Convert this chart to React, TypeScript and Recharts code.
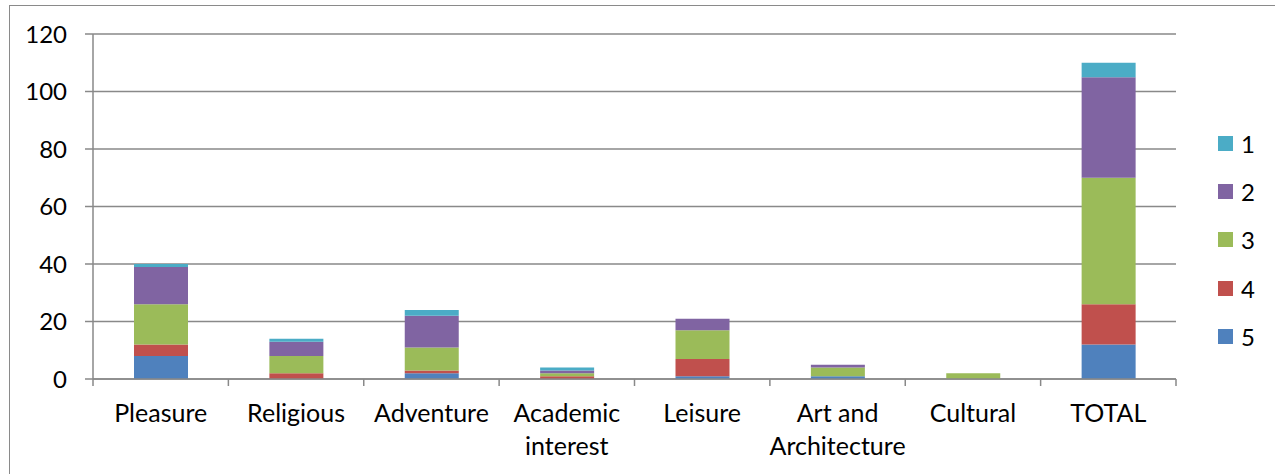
import { BarChart, Bar, XAxis, YAxis, CartesianGrid } from 'recharts'

// categories along the x axis ("\n" = line break in the label)
const categories = [
  'Pleasure',
  'Religious',
  'Adventure',
  'Academic\ninterest',
  'Leisure',
  'Art and\nArchitecture',
  'Cultural',
  'TOTAL',
]

// stacked series, bottom (5) to top (1)
const s5 = [8, 0, 2, 0, 1, 1, 0, 12]
const s4 = [4, 2, 1, 1, 6, 0, 0, 14]
const s3 = [14, 6, 8, 1, 10, 3, 2, 44]
const s2 = [13, 5, 11, 1, 4, 1, 0, 35]
const s1 = [1, 1, 2, 1, 0, 0, 0, 5]

const yTicks = [0, 20, 40, 60, 80, 100, 120]

const series = [
  { key: '5', values: s5, color: '#4F81BD' },
  { key: '4', values: s4, color: '#C0504D' },
  { key: '3', values: s3, color: '#9BBB59' },
  { key: '2', values: s2, color: '#8064A2' },
  { key: '1', values: s1, color: '#4BACC6' },
]

const data = categories.map((c, i) => {
  const row: any = { name: c }
  for (const s of series) row[s.key] = s.values[i]
  return row
})

const W = 1275
const H = 474
const M = { top: 34, right: 99, left: 0, bottom: 0 }
const YW = 93
const plotW = W - M.left - M.right - YW
const band = plotW / categories.length
const FONT = 'Lato, "Noto Sans", sans-serif'
const AXIS = '#898989'

function CatTick(props: any) {
  const { x, y, payload, index } = props
  const lines = String(payload.value).split('\n')
  const y0 = y - 8
  return (
    <g>
      <line x1={x - band / 2} x2={x - band / 2} y1={y0} y2={y0 + 7} stroke={AXIS} strokeWidth={1.5} />
      {index === categories.length - 1 && (
        <line x1={x + band / 2} x2={x + band / 2} y1={y0} y2={y0 + 7} stroke={AXIS} strokeWidth={1.5} />
      )}
      <text x={x} y={y0 + 43} textAnchor="middle" fill="#000" fontSize={25} fontFamily={FONT}>
        {lines.map((l, i) => (
          <tspan key={i} x={x} dy={i === 0 ? 0 : 33}>{l}</tspan>
        ))}
      </text>
    </g>
  )
}

function LegendBox() {
  return (
    <div style={{ position: 'absolute', left: 1218, top: 119, fontFamily: FONT, fontSize: 24, color: '#000' }}>
      {[...series].reverse().map(s => (
        <div key={s.key} style={{ display: 'flex', alignItems: 'center', height: 48.3 }}>
          <span style={{ width: 15, height: 15, background: s.color, display: 'inline-block', marginRight: 8 }} />
          <span>{s.key}</span>
        </div>
      ))}
    </div>
  )
}

export default function App() {
  return (
    <div style={{ position: 'absolute', left: 0, top: 0, width: W, height: H, background: '#fff', overflow: 'hidden' }}>
      <div style={{ position: 'absolute', left: 9, top: 5, width: W, height: H, borderLeft: '1.5px solid #8a8a8a', borderTop: '1.5px solid #8a8a8a' }} />
      <BarChart width={W} height={H} data={data} margin={M} barSize={54} style={{ position: 'absolute', left: 0, top: 0 }}>
        <CartesianGrid vertical={false} stroke={AXIS} strokeWidth={1.5} />
        <XAxis
          dataKey="name"
          height={95}
          interval={0}
          tickLine={false}
          axisLine={{ stroke: AXIS, strokeWidth: 1.5 }}
          tick={<CatTick />}
        />
        <YAxis
          width={YW}
          domain={[0, 120]}
          ticks={yTicks}
          interval={0}
          tickSize={8}
          tickMargin={18}
          axisLine={{ stroke: AXIS, strokeWidth: 1.5 }}
          tickLine={{ stroke: AXIS, strokeWidth: 1.5 }}
          tick={{ fill: '#000', fontSize: 24, fontFamily: FONT }}
        />
        {series.map(s => (
          <Bar key={s.key} dataKey={s.key} stackId="a" fill={s.color} isAnimationActive={false} />
        ))}
      </BarChart>
      <LegendBox />
    </div>
  )
}
